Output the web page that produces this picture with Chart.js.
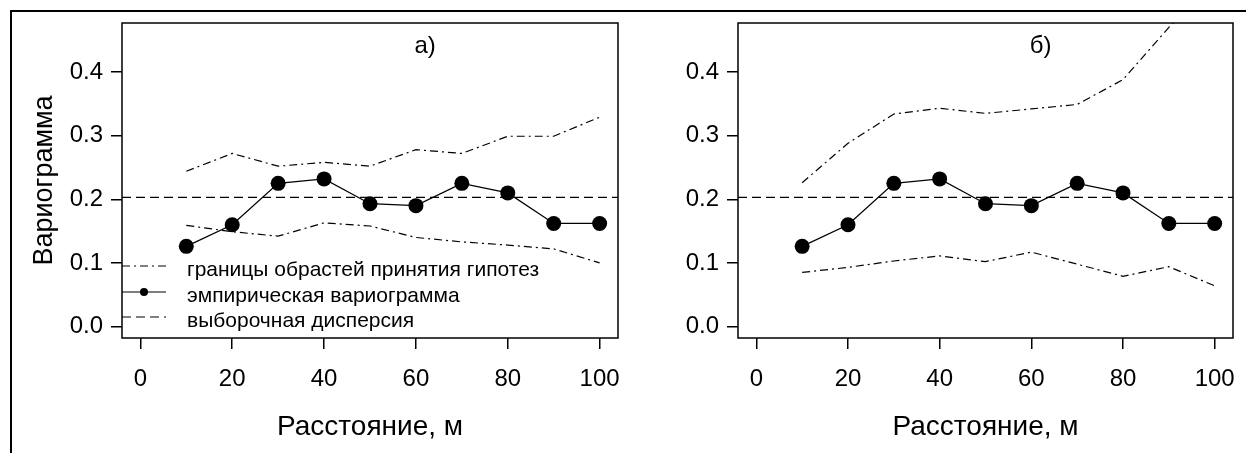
<!DOCTYPE html>
<html>
<head>
<meta charset="utf-8">
<script src="https://cdn.jsdelivr.net/npm/chart.js@4"></script>
<style>
  html, body { margin: 0; padding: 0; background: #fff; overflow: hidden; }
  #page { position: relative; width: 1246px; height: 453px; overflow: hidden; }
  #frame { position: absolute; left: 10px; top: 10px; width: 1400px; height: 600px; border: 2px solid #000; }
  canvas { position: absolute; top: 0; }
</style>
</head>
<body>
<div id="page">
  <div id="frame"></div>
  <canvas id="chartA" width="640" height="453" style="left:0px"></canvas>
  <canvas id="chartB" width="640" height="453" style="left:616px"></canvas>
</div>
<script>
// distances (m) and values
const distances = [10, 20, 30, 40, 50, 60, 70, 80, 90, 100];
const empirical = [0.126, 0.160, 0.225, 0.232, 0.193, 0.190, 0.225, 0.210, 0.162, 0.162];
const sampleVariance = 0.203;
const upperA = [0.244, 0.272, 0.252, 0.258, 0.252, 0.278, 0.272, 0.299, 0.299, 0.329];
const lowerA = [0.159, 0.149, 0.142, 0.163, 0.158, 0.140, 0.133, 0.128, 0.122, 0.100];
const upperB = [0.226, 0.288, 0.334, 0.343, 0.335, 0.342, 0.349, 0.388, 0.470, 0.550];
const lowerB = [0.085, 0.093, 0.103, 0.111, 0.102, 0.117, 0.098, 0.079, 0.094, 0.064];

const xTicks = [0, 20, 40, 60, 80, 100];
const yTicks = [0.0, 0.1, 0.2, 0.3, 0.4];
const X_MIN = -4, X_MAX = 104;
const Y_MIN = -0.018, Y_MAX = 0.477;

const legendLabels = ["границы обрастей принятия гипотез", "эмпирическая вариограмма", "выборочная дисперсия"];
const FONT = "'Liberation Sans', Arial, sans-serif";

function pts(ys) {
    return distances.map((d, i) => ({ x: d, y: ys[i] }));
}

// box around the plot area, panel letter, legend
const boxPlugin = {
    id: 'box',
    afterDraw(chart, args, opts) {
        const ctx = chart.ctx;
        const a = chart.chartArea;
        ctx.save();
        ctx.strokeStyle = '#000';
        ctx.lineWidth = 1.5;
        ctx.setLineDash([]);
        ctx.strokeRect(a.left, a.top, a.right - a.left, a.bottom - a.top);

        ctx.fillStyle = '#000';
        ctx.font = '24px ' + FONT;
        ctx.textAlign = 'center';
        ctx.textBaseline = 'middle';
        ctx.fillText(opts.letter, chart.scales.x.getPixelForValue(62), chart.scales.y.getPixelForValue(0.44));

        if (opts.legend) {
            const x0 = a.left, x1 = a.left + 44, tx = a.left + 65;
            const rows = [266, 292, 317];
            ctx.lineWidth = 1.2;
            ctx.setLineDash([8, 4, 2, 4]);
            ctx.beginPath(); ctx.moveTo(x0, rows[0]); ctx.lineTo(x1, rows[0]); ctx.stroke();
            ctx.setLineDash([]);
            ctx.beginPath(); ctx.moveTo(x0, rows[1]); ctx.lineTo(x1, rows[1]); ctx.stroke();
            ctx.beginPath(); ctx.arc((x0 + x1) / 2, rows[1], 4, 0, Math.PI * 2); ctx.fill();
            ctx.setLineDash([9, 5]);
            ctx.beginPath(); ctx.moveTo(x0, rows[2]); ctx.lineTo(x1, rows[2]); ctx.stroke();
            ctx.setLineDash([]);
            ctx.font = '21px ' + FONT;
            ctx.textAlign = 'left';
            legendLabels.forEach((t, i) => ctx.fillText(t, tx, rows[i] + 4));
        }
        ctx.restore();
    }
};

function makeChart(id, upper, lower, letter, showYTitle, padRight) {
    return new Chart(document.getElementById(id), {
        type: 'line',
        data: {
            datasets: [
                {
                    data: pts(upper),
                    borderColor: '#000',
                    borderWidth: 1.2,
                    borderDash: [8, 4, 2, 4],
                    pointRadius: 0,
                    fill: false
                },
                {
                    data: pts(lower),
                    borderColor: '#000',
                    borderWidth: 1.2,
                    borderDash: [8, 4, 2, 4],
                    pointRadius: 0,
                    fill: false
                },
                {
                    data: [{ x: X_MIN, y: sampleVariance }, { x: X_MAX, y: sampleVariance }],
                    borderColor: '#000',
                    borderWidth: 1.4,
                    borderDash: [9, 5],
                    pointRadius: 0,
                    fill: false
                },
                {
                    data: pts(empirical),
                    borderColor: '#000',
                    borderWidth: 1.3,
                    pointRadius: 7.5,
                    pointBackgroundColor: '#000',
                    pointBorderWidth: 0,
                    fill: false
                }
            ]
        },
        options: {
            responsive: false,
            animation: false,
            devicePixelRatio: 1,
            layout: { padding: { top: 23, right: padRight, left: 0, bottom: 0 } },
            plugins: {
                legend: { display: false },
                tooltip: { enabled: false },
                box: { letter: letter, legend: showYTitle }
            },
            scales: {
                x: {
                    type: 'linear',
                    min: X_MIN,
                    max: X_MAX,
                    afterBuildTicks: (s) => { s.ticks = xTicks.map(v => ({ value: v })); },
                    afterFit: (s) => { s.height = 115; },
                    border: { display: false },
                    grid: { drawOnChartArea: false, drawTicks: true, tickLength: 11, color: '#000', lineWidth: 1.5 },
                    ticks: {
                        color: '#000',
                        font: { family: FONT, size: 24 },
                        padding: 16,
                        maxRotation: 0,
                        callback: (v) => String(v)
                    },
                    title: {
                        display: true,
                        text: 'Расстояние, м',
                        color: '#000',
                        font: { family: FONT, size: 28 },
                        padding: { top: 0, bottom: 9 }
                    }
                },
                y: {
                    type: 'linear',
                    min: Y_MIN,
                    max: Y_MAX,
                    afterBuildTicks: (s) => { s.ticks = yTicks.map(v => ({ value: v })); },
                    afterFit: (s) => { s.width = 122; },
                    border: { display: false },
                    grid: { drawOnChartArea: false, drawTicks: true, tickLength: 11, color: '#000', lineWidth: 1.5 },
                    ticks: {
                        color: '#000',
                        font: { family: FONT, size: 24 },
                        padding: 8,
                        callback: (v) => v.toFixed(1)
                    },
                    title: {
                        display: showYTitle,
                        text: 'Вариограмма',
                        color: '#000',
                        font: { family: FONT, size: 27 },
                        padding: { top: 28, bottom: 0 }
                    }
                }
            }
        },
        plugins: [boxPlugin]
    });
}

makeChart('chartA', upperA, lowerA, 'а)', true, 22);
makeChart('chartB', upperB, lowerB, 'б)', false, 23);
</script>
</body>
</html>
